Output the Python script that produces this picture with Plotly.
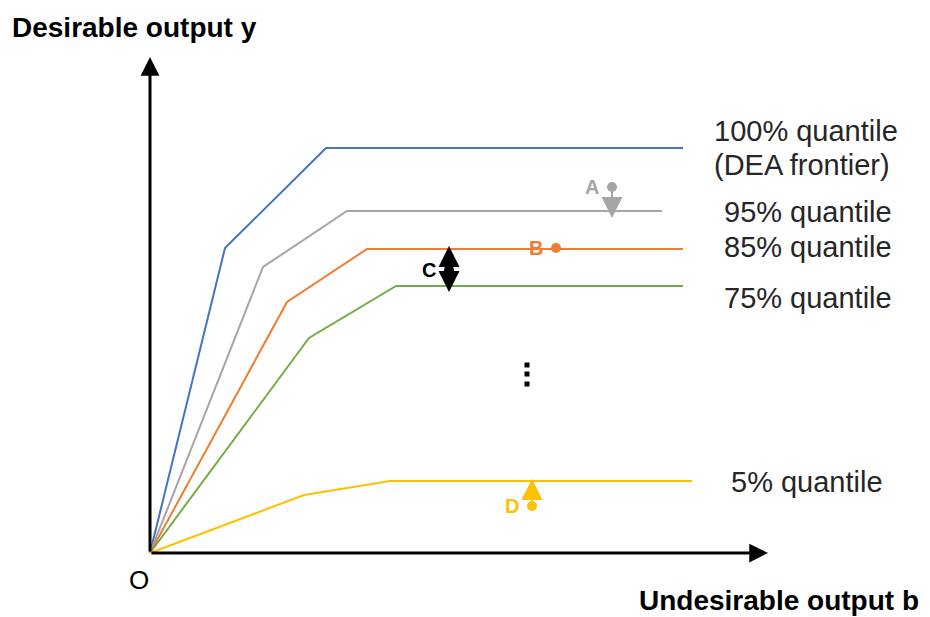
import plotly.graph_objects as go

# Frontier curves (undesirable output b, desirable output y)
blue_b = [0, 7.5, 17.6, 53.3]
blue_y = [0, 30.5, 40.5, 40.5]
gray_b = [0, 11.3, 19.7, 51.2]
gray_y = [0, 28.6, 34.2, 34.2]
orange_b = [0, 13.7, 21.7, 53.3]
orange_y = [0, 25.1, 30.4, 30.4]
green_b = [0, 15.9, 24.6, 53.3]
green_y = [0, 21.5, 26.7, 26.7]
yellow_b = [0, 15.4, 24.0, 54.2]
yellow_y = [0, 5.8, 7.2, 7.2]

curve_labels = ["100% quantile", "95% quantile", "85% quantile", "75% quantile", "5% quantile"]
label_b = [56.2, 57.2, 57.2, 57.2, 57.9]
label_y = [42.2, 34.1, 30.6, 25.5, 7.1]

# Points A-D and the arrow targets
pt_names = ["A", "B", "C", "D"]
pt_b = [46.2, 40.6, 29.9, 38.2]
pt_y = [36.6, 30.5, 28.3, 4.7]
arrow_up_to = [None, None, 30.7, 7.4]
arrow_down_to = [33.5, None, 26.1, None]

dots_b = [37.7, 37.7, 37.7]
dots_y = [18.8, 17.9, 16.9]

BLUE, GRAY, ORANGE, GREEN, YELLOW = "#4472C4", "#A5A5A5", "#ED7D31", "#70AD47", "#FFC000"
pt_colors = [GRAY, ORANGE, "#000000", YELLOW]
FONT = "Liberation Sans, Arial, sans-serif"

fig = go.Figure()
for bx, yy, c in [(blue_b, blue_y, BLUE), (gray_b, gray_y, GRAY), (orange_b, orange_y, ORANGE),
                  (green_b, green_y, GREEN), (yellow_b, yellow_y, YELLOW)]:
    fig.add_trace(go.Scatter(x=bx, y=yy, mode="lines", line=dict(color=c, width=2), hoverinfo="skip"))

ann = []
# axes arrows
ann.append(dict(x=0, y=49.6, ax=0, ay=0, xref="x", yref="y", axref="x", ayref="y",
                showarrow=True, arrowhead=2, arrowsize=1.25, arrowwidth=3, arrowcolor="#000", text=""))
ann.append(dict(x=61.8, y=0, ax=0, ay=0, xref="x", yref="y", axref="x", ayref="y",
                showarrow=True, arrowhead=2, arrowsize=1.25, arrowwidth=3, arrowcolor="#000", text=""))

# point arrows
for i in range(4):
    for tgt in (arrow_up_to[i], arrow_down_to[i]):
        if tgt is not None:
            ann.append(dict(x=pt_b[i], y=tgt, ax=pt_b[i], ay=pt_y[i], xref="x", yref="y",
                            axref="x", ayref="y", showarrow=True, arrowhead=2, arrowsize=2.1,
                            arrowwidth=2, arrowcolor=pt_colors[i], text=""))

fig.add_trace(go.Scatter(x=pt_b, y=pt_y, mode="markers",
                         marker=dict(color=pt_colors, size=10), hoverinfo="skip"))
for i in range(4):
    ann.append(dict(x=pt_b[i], y=pt_y[i], xref="x", yref="y", text="<b>%s</b>" % pt_names[i],
                    showarrow=False, xanchor="right", xshift=-11,
                    font=dict(family=FONT, size=20, color=pt_colors[i])))

fig.add_trace(go.Scatter(x=dots_b, y=dots_y, mode="markers",
                         marker=dict(color="#000", size=5, symbol="square"), hoverinfo="skip"))

for t, bx, yy in zip(curve_labels, label_b, label_y):
    ann.append(dict(x=bx, y=yy, xref="x", yref="y", text=t, showarrow=False, xanchor="left",
                    font=dict(family=FONT, size=29, color="#262626")))
ann.append(dict(x=56.2, y=38.8, xref="x", yref="y", text="(DEA frontier)", showarrow=False,
                xanchor="left", font=dict(family=FONT, size=29, color="#262626")))

ann.append(dict(x=-14.0, y=52.6, xref="x", yref="y", text="<b>Desirable output y</b>",
                showarrow=False, xanchor="left", font=dict(family=FONT, size=28, color="#000")))
ann.append(dict(x=77.1, y=-4.7, xref="x", yref="y", text="<b>Undesirable output b</b>",
                showarrow=False, xanchor="right", font=dict(family=FONT, size=28, color="#000")))
ann.append(dict(x=-1.1, y=-2.7, xref="x", yref="y", text="O",
                showarrow=False, font=dict(family=FONT, size=26, color="#000")))

# page body has an 8px margin; size and ranges compensate so the drawing lands in place
fig.update_layout(
    width=922, height=609, margin=dict(l=0, r=0, t=0, b=0),
    paper_bgcolor="white", plot_bgcolor="white", showlegend=False,
    xaxis=dict(range=[-14.2, 78.0], visible=False, fixedrange=True),
    yaxis=dict(range=[-6.4, 54.5], visible=False, fixedrange=True),
    annotations=ann,
)
fig.write_html("out.html")
